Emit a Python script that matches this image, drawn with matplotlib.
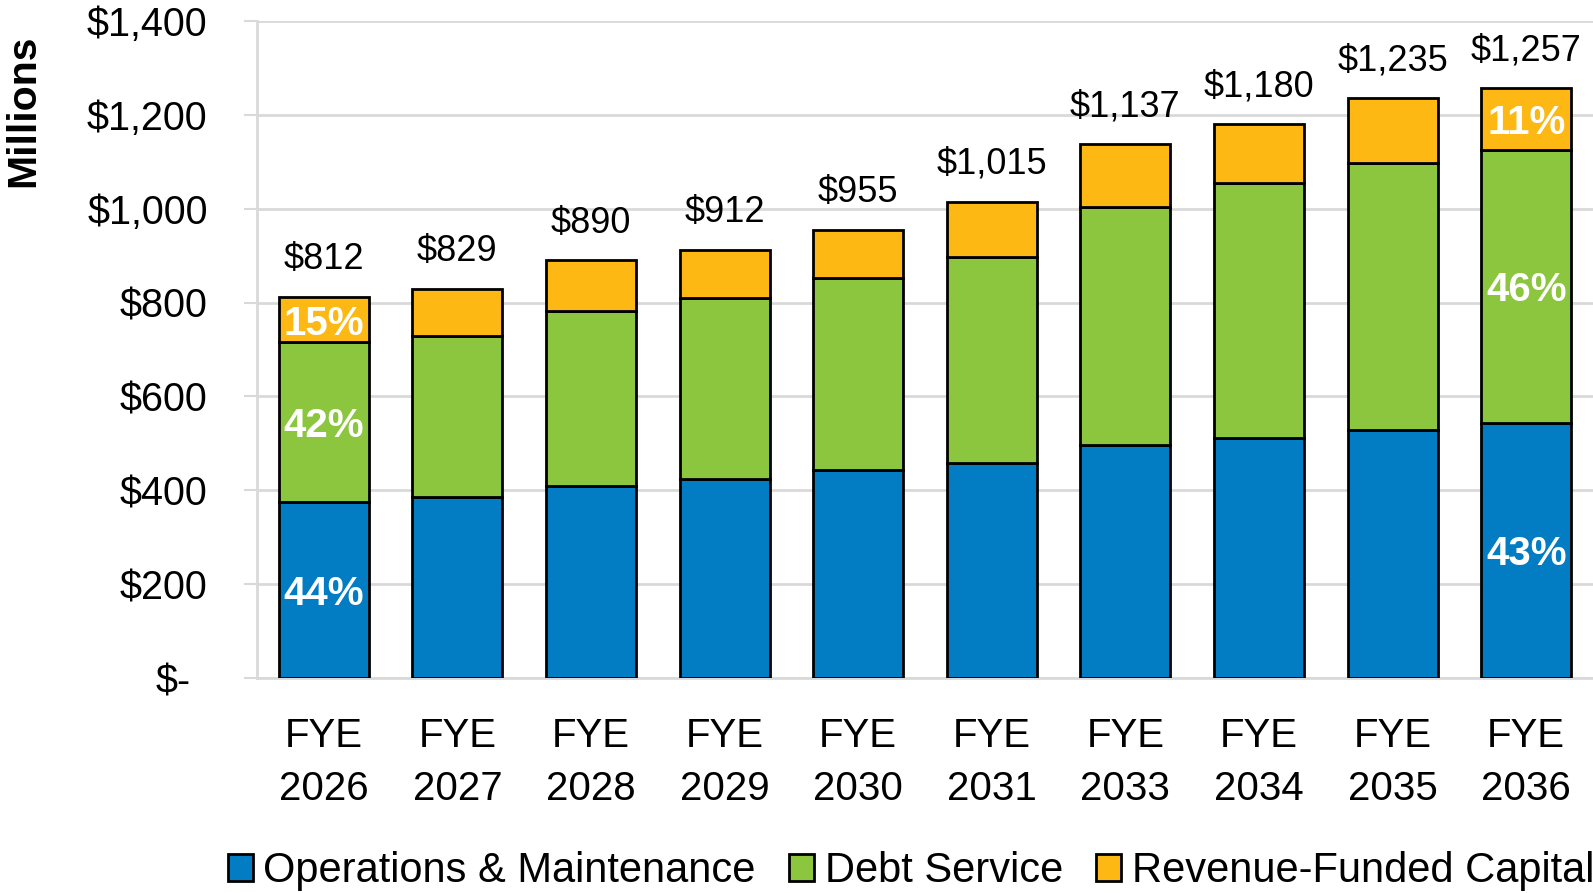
import numpy as np
import matplotlib
matplotlib.use("Agg")
import matplotlib.pyplot as plt
import matplotlib.transforms as mtransforms
from matplotlib.patches import Patch

plt.rcParams["font.family"] = ["Liberation Sans", "DejaVu Sans"]

# data (millions)
years = ["2026", "2027", "2028", "2029", "2030", "2031", "2033", "2034", "2035", "2036"]
om = [376, 385, 409, 424, 444, 459, 496, 511, 528, 544]
debt = [339, 344, 372, 385, 409, 439, 508, 543, 570, 581]
capital = [97, 100, 109, 103, 102, 117, 133, 126, 137, 132]
# share labels only shown on the first and last bar
pct_first = ["44%", "42%", "15%"]
pct_last = ["43%", "46%", "11%"]

names = ["Operations & Maintenance", "Debt Service", "Revenue-Funded Capital"]
colors = ["#027cc2", "#8cc63f", "#fdb813"]

fig = plt.figure(figsize=(15.93, 8.93), dpi=100)
ax = fig.add_axes([257 / 1593, 1 - 678 / 893, 1 - 257 / 1593, (678 - 21) / 893])

x = np.arange(len(years))
om = np.array(om)
debt = np.array(debt)
capital = np.array(capital)
total = om + debt + capital

w = 0.675
ax.bar(x, om, w, color=colors[0], edgecolor="black", linewidth=2, zorder=3)
ax.bar(x, debt, w, bottom=om, color=colors[1], edgecolor="black", linewidth=2, zorder=3)
ax.bar(x, capital, w, bottom=om + debt, color=colors[2], edgecolor="black", linewidth=2, zorder=3)

# totals on top
for i, t in enumerate(total):
    ax.annotate(f"${t:,}", (x[i], t), xytext=(0, 20), textcoords="offset points",
                ha="center", va="baseline", fontsize=26, color="black")

# percentage labels on first and last bars
for i, labels in [(0, pct_first), (len(x) - 1, pct_last)]:
    mids = [om[i] / 2, om[i] + debt[i] / 2, om[i] + debt[i] + capital[i] / 2]
    for m, lab in zip(mids, labels):
        ax.text(x[i], m, lab, ha="center", va="center_baseline", color="white",
                fontsize=29, fontweight="bold", zorder=4)

ax.set_xlim(-0.5, len(x) - 0.5)
ax.set_ylim(0, 1400)
ax.set_yticks(np.arange(0, 1401, 200))
ylabels = ["$-"] + [f"${v:,}" for v in range(200, 1401, 200)]
ax.set_yticklabels(ylabels)
ax.set_xticks(x)
ax.set_xticklabels([f"FYE\n{y}" for y in years], linespacing=1.5)

ax.grid(axis="y", color="#d9d9d9", linewidth=2, zorder=0)
ax.set_axisbelow(True)
for s in ["top", "right"]:
    ax.spines[s].set_visible(False)
ax.spines["left"].set_color("#d9d9d9")
ax.spines["left"].set_linewidth(2)
ax.spines["bottom"].set_color("#d9d9d9")
ax.spines["bottom"].set_linewidth(2)

ax.tick_params(axis="y", length=9.5, width=1.5, color="#d9d9d9", pad=26, labelsize=28.5)
ax.tick_params(axis="x", length=0, pad=28, labelsize=29)

# the "$-" label sits a bit left in the original accounting format
zero_lab = ax.get_yticklabels()[0]
zero_lab.set_transform(zero_lab.get_transform() +
                       mtransforms.ScaledTranslation(-0.17, 0, fig.dpi_scale_trans))

fig.text(23 / 1593, 1 - 111 / 893, "Millions", rotation=90, ha="center", va="center",
         fontsize=29.5, fontweight="bold")

handles = [Patch(facecolor=c, edgecolor="black", linewidth=2) for c in colors]
fig.legend(handles, names, loc="center left", bbox_to_anchor=(228 / 1593, 1 - 871 / 893),
           ncol=3, frameon=False, fontsize=30, handlelength=0.6, handleheight=0.6,
           handletextpad=0.25, columnspacing=0.8, borderpad=0, borderaxespad=0)

fig.savefig("out.png", dpi=100)
